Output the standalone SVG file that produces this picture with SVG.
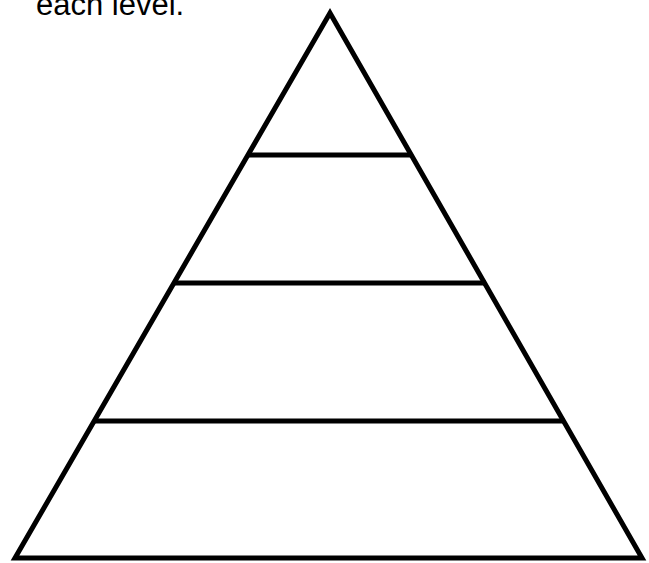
<svg xmlns="http://www.w3.org/2000/svg" width="649" height="563" viewBox="0 0 649 563">
<style>
.e{stroke:#000;stroke-width:5;fill:none;stroke-linejoin:miter}
.t{font-family:"Liberation Sans",Arial,sans-serif;font-size:31px;fill:#000}
</style>
<rect width="649" height="563" fill="#fff"/>
<text class="t" x="36" y="15">each level.</text>
<g id="pyramid">
<polygon class="e" points="330,13 15,558 642,558"/>
</g>
<g id="levels">
<line class="e" x1="248" y1="155" x2="412" y2="155"/>
<line class="e" x1="174" y1="283" x2="486" y2="283"/>
<line class="e" x1="94" y1="421" x2="565" y2="421"/>
</g>
</svg>
